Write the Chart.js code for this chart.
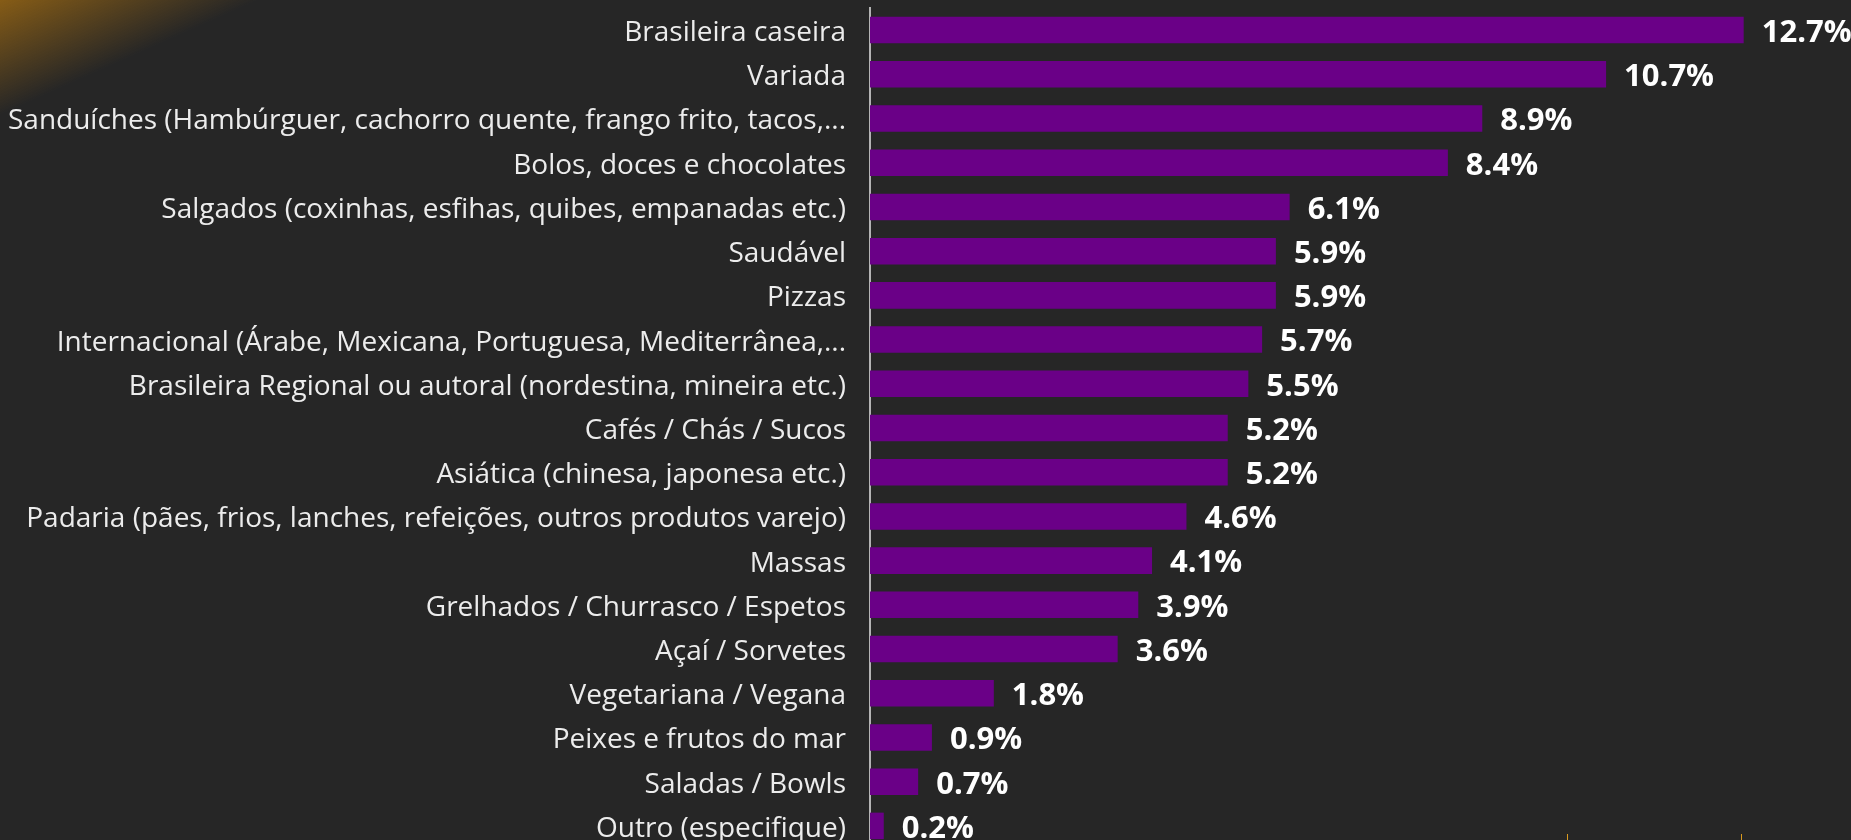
<!DOCTYPE html>
<html lang="pt-BR">
<head>
<meta charset="utf-8">
<title>Tipos de cozinha</title>
<script src="https://cdn.jsdelivr.net/npm/chart.js@4.4.1/dist/chart.umd.min.js"></script>
<style>
  html, body { margin: 0; padding: 0; overflow: hidden; }
  body {
    width: 1851px; height: 840px;
    background: #262626;
    background-image: linear-gradient(156deg, #865c16 0px, rgba(38,38,38,0) 105px);
  }
  #wrap { position: absolute; left: 0; top: 0; width: 1851px; height: 848px; }
  .mark { position: absolute; top: 834px; width: 1px; height: 6px; background: #d99a1e; }
</style>
</head>
<body>
<div id="wrap"><canvas id="cozinhaChart"></canvas></div>
<div class="mark" style="left:1567px"></div>
<div class="mark" style="left:1741px"></div>
<script>
// categorias e valores (%)
var categorias = [
  'Brasileira caseira',
  'Variada',
  'Sanduíches (Hambúrguer, cachorro quente, frango frito, tacos,...',
  'Bolos, doces e chocolates',
  'Salgados (coxinhas, esfihas, quibes, empanadas etc.)',
  'Saudável',
  'Pizzas',
  'Internacional (Árabe, Mexicana, Portuguesa, Mediterrânea,...',
  'Brasileira Regional ou autoral (nordestina, mineira etc.)',
  'Cafés / Chás / Sucos',
  'Asiática (chinesa, japonesa etc.)',
  'Padaria (pães, frios, lanches, refeições, outros produtos varejo)',
  'Massas',
  'Grelhados / Churrasco / Espetos',
  'Açaí / Sorvetes',
  'Vegetariana / Vegana',
  'Peixes e frutos do mar',
  'Saladas / Bowls',
  'Outro (especifique)'
];
var percentuais = [12.7, 10.7, 8.9, 8.4, 6.1, 5.9, 5.9, 5.7, 5.5, 5.2, 5.2, 4.6, 4.1, 3.9, 3.6, 1.8, 0.9, 0.7, 0.2];
var rotulos = ['12.7%', '10.7%', '8.9%', '8.4%', '6.1%', '5.9%', '5.9%', '5.7%', '5.5%', '5.2%', '5.2%', '4.6%', '4.1%', '3.9%', '3.6%', '1.8%', '0.9%', '0.7%', '0.2%'];

(function() {
  'use strict';

  // escreve o percentual ao lado de cada barra
  var valorLabels = {
    id: 'valorLabels',
    afterDatasetsDraw: function(chart) {
      var ctx = chart.ctx;
      var meta = chart.getDatasetMeta(0);
      ctx.save();
      ctx.font = 'bold 31px "Open Sans", sans-serif';
      ctx.fillStyle = '#ffffff';
      ctx.textAlign = 'left';
      ctx.textBaseline = 'middle';
      meta.data.forEach(function(bar, i) {
        ctx.fillText(rotulos[i], bar.x + 18, bar.y + 3);
      });
      ctx.restore();
    }
  };

  var canvas = document.getElementById('cozinhaChart');
  var chart = new Chart(canvas.getContext('2d'), {
    type: 'bar',
    data: {
      labels: categorias,
      datasets: [{
        data: percentuais,
        backgroundColor: '#6a0087',
        borderWidth: 0,
        categoryPercentage: 1,
        barPercentage: 0.6
      }]
    },
    options: {
      indexAxis: 'y',
      responsive: true,
      maintainAspectRatio: false,
      devicePixelRatio: 1,
      animation: false,
      layout: { padding: { top: 8, bottom: 0, left: 0, right: 0 } },
      plugins: {
        legend: { display: false },
        tooltip: { enabled: false }
      },
      scales: {
        x: {
          display: false,
          min: 0,
          max: 14.26
        },
        y: {
          afterFit: function(scale) {
            scale.width = 870;
            // sem folga extra em cima/embaixo do eixo
            scale.paddingTop = 0;
            scale.paddingBottom = 0;
          },
          grid: { display: false, drawTicks: false },
          border: { display: true, color: '#b4b4b4', width: 2 },
          ticks: {
            autoSkip: false,
            padding: 24,
            labelOffset: 3,
            color: '#ececec',
            font: { family: '"Open Sans", sans-serif', size: 28 }
          }
        }
      }
    },
    plugins: [valorLabels]
  });
})();
</script>
</body>
</html>
